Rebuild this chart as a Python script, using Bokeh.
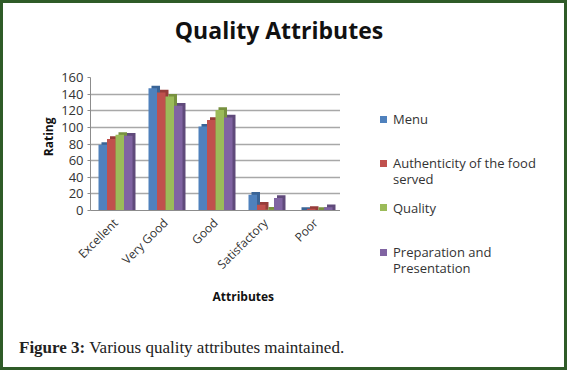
from bokeh.plotting import figure
from bokeh.models import FactorRange, Range1d, ColumnDataSource, FixedTicker, Title, Div
from bokeh.transform import dodge
from bokeh.layouts import column, row
from bokeh.embed import file_html
from bokeh.resources import INLINE

categories = ["Excellent", "Very Good", "Good", "Satisfactory", "Poor"]
menu = [79, 147, 101, 19, 0.6]
authenticity = [86, 142, 109, 7, 2]
quality = [91, 137, 121, 1, 0.6]
preparation = [90, 126, 112, 15, 4]
series_labels = ["Menu", "Authenticity of the food\nserved", "Quality",
                 "Preparation and\nPresentation"]
y_ticks = [0, 20, 40, 60, 80, 100, 120, 140, 160]

front_colors = ["#4f81bd", "#c0504d", "#9bbb59", "#8064a2"]
side_colors = ["#3a6496", "#963c3a", "#77913f", "#604a7b"]
FONT = "Open Sans"
cols = ["s0", "s1", "s2", "s3"]

source = ColumnDataSource(dict(cat=categories, s0=menu, s1=authenticity,
                               s2=quality, s3=preparation))
for col in cols:
    source.data[col + "_back"] = [v + 3.2 for v in source.data[col]]

p = figure(x_range=FactorRange(*categories, range_padding=0), y_range=Range1d(0, 160),
           frame_width=250, frame_height=133, title=None,
           output_backend="svg", toolbar_location=None,
           min_border_left=87, min_border_right=0, min_border_top=8,
           min_border_bottom=119, background_fill_color="white",
           border_fill_color="white", outline_line_color=None)

bar_w = 0.17
offsets = [-0.255, -0.085, 0.085, 0.255]
for i, col in enumerate(cols):
    p.vbar(x=dodge("cat", offsets[i] + 0.06, range=p.x_range), top=col + "_back",
           bottom=0, width=bar_w, source=source, fill_color=side_colors[i],
           line_color=None)
    p.vbar(x=dodge("cat", offsets[i], range=p.x_range), top=col, bottom=0,
           width=bar_w, source=source, fill_color=front_colors[i],
           line_color=None)

p.yaxis.ticker = FixedTicker(ticks=y_ticks)
p.ygrid.ticker = FixedTicker(ticks=y_ticks)
p.ygrid.grid_line_color = "#a8a8a8"
p.ygrid.grid_line_width = 1.5
p.xgrid.grid_line_color = None
p.yaxis.axis_line_color = "#8c8c8c"
p.yaxis.major_tick_line_color = "#8c8c8c"
p.yaxis.major_tick_out = 3
p.yaxis.major_tick_in = 0
p.yaxis.minor_tick_line_color = None
p.yaxis.major_label_standoff = 4
p.xaxis.axis_line_color = "#8c8c8c"
p.xaxis.major_tick_line_color = None
p.xaxis.minor_tick_line_color = None
p.xaxis.major_label_orientation = 0.785
p.xaxis.major_label_standoff = 4
p.yaxis.major_label_text_font_size = "13px"
p.xaxis.major_label_text_font_size = "12px"
for ax in (p.xaxis, p.yaxis):
    ax.major_label_text_font = FONT
    ax.major_label_text_color = "#333333"

ytitle = Title(text="Rating", text_font=FONT, text_font_size="12px",
               text_font_style="bold", align="right", offset=40, standoff=4,
               text_color="#111111")
p.add_layout(ytitle, "left")
xtitle = Title(text="Attributes", text_font=FONT, text_font_size="12px",
               text_font_style="bold", align="left", offset=122, standoff=8,
               text_color="#111111")
p.add_layout(xtitle, "below")

# legend: one entry per series, built from the series labels and colours
entries = []
for i, (lab, colr) in enumerate(zip(series_labels, front_colors)):
    top = 37 + 44.4 * i
    entries.append(
        f'<div style="position:absolute;left:35px;top:{top:.1f}px;display:flex;'
        f'align-items:flex-start;white-space:nowrap;">'
        f'<span style="display:inline-block;flex:none;width:7px;height:7px;'
        f'margin-top:4.5px;margin-right:6px;background:{colr};"></span>'
        f'<span>{lab.replace(chr(10), "<br>")}</span></div>')
legend_div = Div(text='<div style="position:relative;width:214px;height:250px;'
                      'font-family:\'Open Sans\';font-size:13px;line-height:16px;'
                      'color:#333333;">' + "".join(entries) + '</div>',
                 width=214, height=250)

title_div = Div(text="Quality Attributes", width=551, height=56,
                styles={"font-family": "Open Sans", "font-size": "23px",
                        "font-weight": "bold", "color": "#111111",
                        "text-align": "center", "line-height": "44px",
                        "text-indent": "-9px"})

caption = Div(text='<span style="font-weight:bold">Figure 3:</span> Various quality attributes maintained.',
              width=551, height=28,
              styles={"font-family": "Liberation Serif", "font-size": "17px",
                      "color": "#222222", "line-height": "28px",
                      "text-indent": "11px"})

layout = column(title_div, row(p, legend_div), caption,
                styles={"border": "3px solid #2f5b28"})

open("out.html", "w").write(file_html(layout, INLINE))
